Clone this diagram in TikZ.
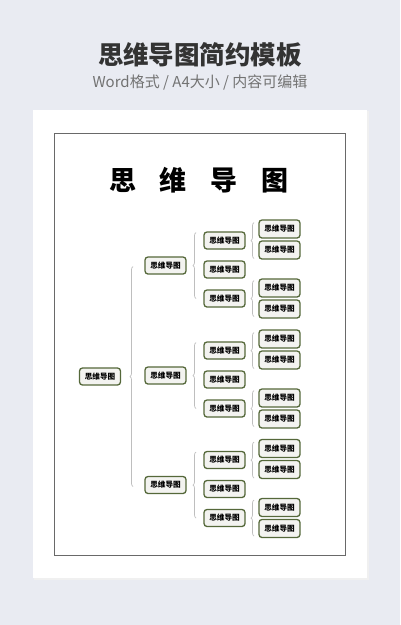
\documentclass[tikz,border=0pt]{standalone}
\usepackage{fontspec}
\setmainfont{Noto Sans CJK SC}
\newfontfamily\cjk{Noto Sans CJK SC}
\usetikzlibrary{decorations.pathreplacing}
\definecolor{bgc}{RGB}{233,235,242}
\definecolor{olivec}{RGB}{85,104,58}
\definecolor{boxfill}{RGB}{243,243,240}
\definecolor{bracec}{RGB}{190,190,190}
\definecolor{framec}{RGB}{105,105,105}
\tikzset{
  mm/.style={draw=olivec, line width=1.3pt, rounded corners=3pt, fill=boxfill,
    minimum width=41pt, minimum height=17pt, inner sep=0pt,
    font=\cjk\bfseries\fontsize{7.6pt}{8pt}\selectfont, text=black},
  leaf/.style={mm, minimum height=18pt},
  brc/.style={draw=bracec, line width=0.7pt, decorate, decoration={brace, amplitude=3pt, aspect=0.5}}
}
\begin{document}
\begin{tikzpicture}[x=1pt,y=-1pt]
\useasboundingbox (0,0) rectangle (400,625);
\fill[bgc] (0,0) rectangle (400,625);
\fill[black!6] (34,111) rectangle (369,580);
\fill[white] (33,110) rectangle (367,578);
\draw[framec, line width=1pt] (54,133) rectangle (345,555);
\node[font=\cjk\bfseries\fontsize{25.5pt}{28pt}\selectfont, text=black!80] (hdr) at (200,55) {思维导图简约模板};
\node[font=\cjk\fontsize{15pt}{17pt}\selectfont, text=black!55] (sub) at (200,82) {Word格式 / A4大小 / 内容可编辑};
\node[font=\cjk\bfseries\fontsize{27pt}{30pt}\selectfont, text=black] (title) at (199,180) {思\hspace{24pt}维\hspace{24pt}导\hspace{24pt}图};
\node[mm] (root) at (100,376.5) {思维导图};
\draw[brc] (133,486.5) -- (133,266.5);
\foreach \g/\gy in {1/265.5, 2/375.5, 3/485} {
  \node[mm] (a\g) at (165.5,\gy) {思维导图};
  \draw[brc] (196,\gy+33) -- (196,\gy-33);
  \node[mm] (b\g1) at (224.5,\gy-25) {思维导图};
  \node[mm] (b\g2) at (224.5,\gy+4) {思维导图};
  \node[mm] (b\g3) at (224.5,\gy+33) {思维导图};
  \draw[brc] (254,\gy-25+18) -- (254,\gy-25-18);
  \node[leaf] (c\g1) at (279.5,\gy-25-11.5) {思维导图};
  \node[leaf] (c\g2) at (279.5,\gy-25+9.5) {思维导图};
  \draw[brc] (254,\gy+33+18) -- (254,\gy+33-18);
  \node[leaf] (c\g3) at (279.5,\gy+33-10.5) {思维导图};
  \node[leaf] (c\g4) at (279.5,\gy+33+10.5) {思维导图};
}
\end{tikzpicture}
\end{document}
